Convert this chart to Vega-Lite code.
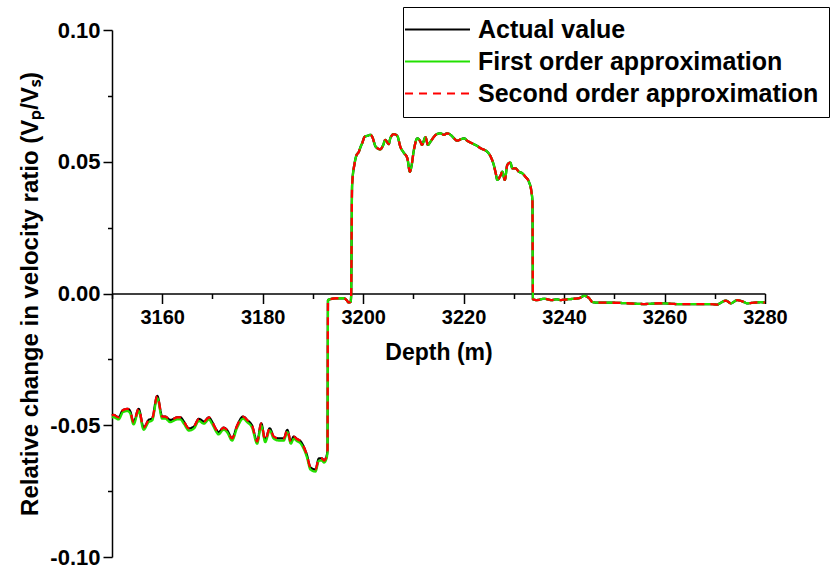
{
  "$schema": "https://vega.github.io/schema/vega-lite/v6.json",
  "autosize": {"type": "none"},
  "padding": {"left": 112, "top": 30, "right": 69, "bottom": 11},
  "width": 653,
  "height": 527,
  "background": "white",
  "config": {"view": {"stroke": null}},
  "data": {"values": [
    {"d":3150,"A":-0.0464,"F":-0.0472,"S":-0.0463},
    {"d":3150.3,"A":-0.0461,"F":-0.0469,"S":-0.0461},
    {"d":3151.3,"A":-0.0470,"F":-0.0478,"S":-0.0470},
    {"d":3152.2,"A":-0.0442,"F":-0.0450,"S":-0.0442},
    {"d":3153.1,"A":-0.0438,"F":-0.0446,"S":-0.0438},
    {"d":3153.6,"A":-0.0446,"F":-0.0454,"S":-0.0446},
    {"d":3154.3,"A":-0.0489,"F":-0.0497,"S":-0.0489},
    {"d":3155.3,"A":-0.0438,"F":-0.0446,"S":-0.0438},
    {"d":3156.3,"A":-0.0509,"F":-0.0517,"S":-0.0509},
    {"d":3157.3,"A":-0.0480,"F":-0.0488,"S":-0.0480},
    {"d":3158.0,"A":-0.0474,"F":-0.0482,"S":-0.0474},
    {"d":3159.0,"A":-0.0389,"F":-0.0397,"S":-0.0389},
    {"d":3160.0,"A":-0.0467,"F":-0.0475,"S":-0.0467},
    {"d":3160.6,"A":-0.0467,"F":-0.0475,"S":-0.0467},
    {"d":3161.6,"A":-0.0480,"F":-0.0488,"S":-0.0480},
    {"d":3163.0,"A":-0.0470,"F":-0.0478,"S":-0.0470},
    {"d":3163.6,"A":-0.0470,"F":-0.0478,"S":-0.0470},
    {"d":3164.3,"A":-0.0486,"F":-0.0494,"S":-0.0486},
    {"d":3165.3,"A":-0.0512,"F":-0.0520,"S":-0.0512},
    {"d":3166.3,"A":-0.0505,"F":-0.0513,"S":-0.0505},
    {"d":3167.3,"A":-0.0476,"F":-0.0484,"S":-0.0476},
    {"d":3168.3,"A":-0.0486,"F":-0.0494,"S":-0.0486},
    {"d":3169.3,"A":-0.0470,"F":-0.0478,"S":-0.0470},
    {"d":3169.9,"A":-0.0486,"F":-0.0494,"S":-0.0486},
    {"d":3170.8,"A":-0.0518,"F":-0.0526,"S":-0.0518},
    {"d":3171.2,"A":-0.0527,"F":-0.0535,"S":-0.0527},
    {"d":3172.2,"A":-0.0509,"F":-0.0517,"S":-0.0509},
    {"d":3172.9,"A":-0.0518,"F":-0.0526,"S":-0.0518},
    {"d":3173.9,"A":-0.0550,"F":-0.0558,"S":-0.0550},
    {"d":3174.9,"A":-0.0502,"F":-0.0510,"S":-0.0502},
    {"d":3176.1,"A":-0.0467,"F":-0.0475,"S":-0.0467},
    {"d":3176.9,"A":-0.0480,"F":-0.0488,"S":-0.0480},
    {"d":3177.9,"A":-0.0502,"F":-0.0510,"S":-0.0502},
    {"d":3178.9,"A":-0.0562,"F":-0.0570,"S":-0.0562},
    {"d":3179.7,"A":-0.0493,"F":-0.0501,"S":-0.0493},
    {"d":3180.5,"A":-0.0556,"F":-0.0564,"S":-0.0556},
    {"d":3181.4,"A":-0.0512,"F":-0.0520,"S":-0.0512},
    {"d":3182.2,"A":-0.0543,"F":-0.0551,"S":-0.0543},
    {"d":3183.2,"A":-0.0550,"F":-0.0558,"S":-0.0550},
    {"d":3184.2,"A":-0.0550,"F":-0.0558,"S":-0.0550},
    {"d":3184.9,"A":-0.0518,"F":-0.0526,"S":-0.0518},
    {"d":3185.6,"A":-0.0562,"F":-0.0570,"S":-0.0562},
    {"d":3186.2,"A":-0.0543,"F":-0.0551,"S":-0.0543},
    {"d":3186.8,"A":-0.0552,"F":-0.0560,"S":-0.0552},
    {"d":3187.5,"A":-0.0560,"F":-0.0568,"S":-0.0560},
    {"d":3188.0,"A":-0.0575,"F":-0.0583,"S":-0.0575},
    {"d":3188.8,"A":-0.0613,"F":-0.0621,"S":-0.0613},
    {"d":3189.5,"A":-0.0660,"F":-0.0668,"S":-0.0660},
    {"d":3190.5,"A":-0.0668,"F":-0.0676,"S":-0.0668},
    {"d":3191.2,"A":-0.0626,"F":-0.0634,"S":-0.0626},
    {"d":3191.8,"A":-0.0626,"F":-0.0634,"S":-0.0626},
    {"d":3192.2,"A":-0.0634,"F":-0.0642,"S":-0.0634},
    {"d":3192.7,"A":-0.0619,"F":-0.0627,"S":-0.0619},
    {"d":3192.9,"A":-0.0594,"F":-0.0600,"S":-0.0594},
    {"d":3193.0,"A":-0.0025,"F":-0.0025,"S":-0.0025},
    {"d":3193.3,"A":-0.0022,"F":-0.0022,"S":-0.0022},
    {"d":3194.8,"A":-0.0018,"F":-0.0018,"S":-0.0018},
    {"d":3196.1,"A":-0.0018,"F":-0.0018,"S":-0.0018},
    {"d":3196.7,"A":-0.0025,"F":-0.0025,"S":-0.0025},
    {"d":3197.1,"A":-0.0034,"F":-0.0034,"S":-0.0034},
    {"d":3197.5,"A":-0.0032,"F":-0.0032,"S":-0.0032},
    {"d":3197.6,"A":-0.0012,"F":-0.0012,"S":-0.0012},
    {"d":3197.8,"A":0.0412,"F":0.0412,"S":0.0412},
    {"d":3198.3,"A":0.0494,"F":0.0494,"S":0.0494},
    {"d":3198.7,"A":0.0526,"F":0.0526,"S":0.0526},
    {"d":3199.1,"A":0.0536,"F":0.0536,"S":0.0536},
    {"d":3199.5,"A":0.0557,"F":0.0557,"S":0.0557},
    {"d":3199.8,"A":0.0570,"F":0.0570,"S":0.0570},
    {"d":3200.3,"A":0.0595,"F":0.0595,"S":0.0595},
    {"d":3200.8,"A":0.0598,"F":0.0598,"S":0.0598},
    {"d":3201.5,"A":0.0602,"F":0.0602,"S":0.0602},
    {"d":3201.8,"A":0.0595,"F":0.0595,"S":0.0595},
    {"d":3202.5,"A":0.0557,"F":0.0557,"S":0.0557},
    {"d":3203.4,"A":0.0547,"F":0.0547,"S":0.0547},
    {"d":3204.0,"A":0.0564,"F":0.0564,"S":0.0564},
    {"d":3204.4,"A":0.0583,"F":0.0583,"S":0.0583},
    {"d":3205.1,"A":0.0567,"F":0.0567,"S":0.0567},
    {"d":3205.4,"A":0.0589,"F":0.0589,"S":0.0589},
    {"d":3206.1,"A":0.0605,"F":0.0605,"S":0.0605},
    {"d":3206.8,"A":0.0598,"F":0.0598,"S":0.0598},
    {"d":3207.4,"A":0.0557,"F":0.0557,"S":0.0557},
    {"d":3208.1,"A":0.0534,"F":0.0534,"S":0.0534},
    {"d":3208.8,"A":0.0513,"F":0.0513,"S":0.0513},
    {"d":3209.3,"A":0.0462,"F":0.0462,"S":0.0462},
    {"d":3209.6,"A":0.0481,"F":0.0481,"S":0.0481},
    {"d":3210.1,"A":0.0545,"F":0.0545,"S":0.0545},
    {"d":3210.8,"A":0.0589,"F":0.0589,"S":0.0589},
    {"d":3211.4,"A":0.0576,"F":0.0576,"S":0.0576},
    {"d":3211.7,"A":0.0564,"F":0.0564,"S":0.0564},
    {"d":3212.4,"A":0.0593,"F":0.0593,"S":0.0593},
    {"d":3212.9,"A":0.0564,"F":0.0564,"S":0.0564},
    {"d":3213.4,"A":0.0576,"F":0.0576,"S":0.0576},
    {"d":3214.1,"A":0.0595,"F":0.0595,"S":0.0595},
    {"d":3214.7,"A":0.0605,"F":0.0605,"S":0.0605},
    {"d":3215.4,"A":0.0608,"F":0.0608,"S":0.0608},
    {"d":3216.1,"A":0.0602,"F":0.0602,"S":0.0602},
    {"d":3216.7,"A":0.0608,"F":0.0608,"S":0.0608},
    {"d":3217.4,"A":0.0602,"F":0.0602,"S":0.0602},
    {"d":3218.1,"A":0.0589,"F":0.0589,"S":0.0589},
    {"d":3218.7,"A":0.0580,"F":0.0580,"S":0.0580},
    {"d":3219.4,"A":0.0585,"F":0.0585,"S":0.0585},
    {"d":3220.1,"A":0.0589,"F":0.0589,"S":0.0589},
    {"d":3220.7,"A":0.0580,"F":0.0580,"S":0.0580},
    {"d":3222.0,"A":0.0567,"F":0.0567,"S":0.0567},
    {"d":3222.7,"A":0.0560,"F":0.0560,"S":0.0560},
    {"d":3223.4,"A":0.0551,"F":0.0551,"S":0.0551},
    {"d":3224.7,"A":0.0538,"F":0.0538,"S":0.0538},
    {"d":3225.4,"A":0.0519,"F":0.0519,"S":0.0519},
    {"d":3226.0,"A":0.0488,"F":0.0488,"S":0.0488},
    {"d":3226.4,"A":0.0456,"F":0.0456,"S":0.0456},
    {"d":3226.7,"A":0.0431,"F":0.0431,"S":0.0431},
    {"d":3227.4,"A":0.0450,"F":0.0450,"S":0.0450},
    {"d":3227.7,"A":0.0462,"F":0.0462,"S":0.0462},
    {"d":3228.2,"A":0.0431,"F":0.0431,"S":0.0431},
    {"d":3228.7,"A":0.0488,"F":0.0488,"S":0.0488},
    {"d":3229.3,"A":0.0497,"F":0.0497,"S":0.0497},
    {"d":3229.7,"A":0.0475,"F":0.0475,"S":0.0475},
    {"d":3230.3,"A":0.0475,"F":0.0475,"S":0.0475},
    {"d":3231.0,"A":0.0462,"F":0.0462,"S":0.0462},
    {"d":3231.7,"A":0.0456,"F":0.0456,"S":0.0456},
    {"d":3232.3,"A":0.0443,"F":0.0443,"S":0.0443},
    {"d":3233.0,"A":0.0424,"F":0.0424,"S":0.0424},
    {"d":3233.5,"A":0.0386,"F":0.0386,"S":0.0386},
    {"d":3233.7,"A":0.0350,"F":0.0350,"S":0.0350},
    {"d":3233.8,"A":-0.0022,"F":-0.0022,"S":-0.0022},
    {"d":3234.5,"A":-0.0025,"F":-0.0025,"S":-0.0025},
    {"d":3236.0,"A":-0.0020,"F":-0.0020,"S":-0.0020},
    {"d":3237.5,"A":-0.0025,"F":-0.0025,"S":-0.0025},
    {"d":3238.5,"A":-0.0022,"F":-0.0022,"S":-0.0022},
    {"d":3239.3,"A":-0.0025,"F":-0.0025,"S":-0.0025},
    {"d":3240.6,"A":-0.0022,"F":-0.0022,"S":-0.0022},
    {"d":3242.0,"A":-0.0020,"F":-0.0020,"S":-0.0020},
    {"d":3243.0,"A":-0.0018,"F":-0.0018,"S":-0.0018},
    {"d":3244.0,"A":-0.0009,"F":-0.0009,"S":-0.0009},
    {"d":3245.0,"A":-0.0018,"F":-0.0018,"S":-0.0018},
    {"d":3245.6,"A":-0.0032,"F":-0.0032,"S":-0.0032},
    {"d":3246.6,"A":-0.0035,"F":-0.0035,"S":-0.0035},
    {"d":3249.3,"A":-0.0035,"F":-0.0035,"S":-0.0035},
    {"d":3252.6,"A":-0.0037,"F":-0.0037,"S":-0.0037},
    {"d":3255.9,"A":-0.0040,"F":-0.0040,"S":-0.0040},
    {"d":3259.2,"A":-0.0037,"F":-0.0037,"S":-0.0037},
    {"d":3262.6,"A":-0.0040,"F":-0.0040,"S":-0.0040},
    {"d":3265.9,"A":-0.0040,"F":-0.0040,"S":-0.0040},
    {"d":3269.2,"A":-0.0040,"F":-0.0040,"S":-0.0040},
    {"d":3270.5,"A":-0.0042,"F":-0.0042,"S":-0.0042},
    {"d":3271.2,"A":-0.0035,"F":-0.0035,"S":-0.0035},
    {"d":3272.2,"A":-0.0027,"F":-0.0027,"S":-0.0027},
    {"d":3273.2,"A":-0.0037,"F":-0.0037,"S":-0.0037},
    {"d":3274.5,"A":-0.0025,"F":-0.0025,"S":-0.0025},
    {"d":3275.5,"A":-0.0030,"F":-0.0030,"S":-0.0030},
    {"d":3276.5,"A":-0.0037,"F":-0.0037,"S":-0.0037},
    {"d":3277.8,"A":-0.0035,"F":-0.0035,"S":-0.0035},
    {"d":3279.2,"A":-0.0033,"F":-0.0033,"S":-0.0033},
    {"d":3280,"A":-0.0035,"F":-0.0035,"S":-0.0035}
  ]},
  "transform": [{"fold": ["A", "F", "S"], "as": ["series", "value"]}],
  "mark": {"type": "line", "strokeWidth": 2.3, "interpolate": "monotone"},
  "encoding": {
    "x": {
      "field": "d", "type": "quantitative",
      "scale": {"domain": [3150, 3280], "nice": false, "zero": false},
      "axis": {
        "orient": "bottom", "offset": -263.5,
        "values": [3150,3160,3170,3180,3190,3200,3210,3220,3230,3240,3250,3260,3270,3280],
        "format": "d",
        "labelExpr": "datum.value % 20 == 0 ? datum.label : ''",
        "tickSize": {"condition": {"test": "datum.value % 20 == 0", "value": 10}, "value": 5},
        "grid": false, "domainColor": "black", "domainWidth": 1.5,
        "tickColor": "black", "tickWidth": 1.5,
        "labelFont": "Liberation Sans", "labelFontWeight": "bold", "labelFontSize": 20,
        "labelColor": "black", "labelPadding": 4, "labelFlush": false,
        "title": "Depth (m)", "titleFont": "Liberation Sans", "titleFontWeight": "bold",
        "titleFontSize": 23, "titleColor": "black", "titlePadding": 14
      }
    },
    "y": {
      "field": "value", "type": "quantitative",
      "scale": {"domain": [-0.1, 0.1], "nice": false, "zero": false},
      "axis": {
        "values": [-0.1,-0.075,-0.05,-0.025,0,0.025,0.05,0.075,0.1],
        "format": ".2f",
        "labelExpr": "abs(round(datum.value*40)) % 2 == 0 ? replace(datum.label, '\u2212', '-') : ''",
        "tickSize": {"condition": {"test": "abs(round(datum.value*40)) % 2 == 0", "value": 9}, "value": 4.5},
        "grid": false, "domainColor": "black", "domainWidth": 1.5,
        "tickColor": "black", "tickWidth": 1.5,
        "labelFont": "Liberation Sans", "labelFontWeight": "bold", "labelFontSize": 22,
        "labelColor": "black", "labelPadding": 3, "labelFlush": false,
        "title": "Relative change in velocity ratio (Vₚ/Vₛ)",
        "titleFont": "Liberation Sans", "titleFontWeight": "bold",
        "titleFontSize": 24, "titleColor": "black", "titlePadding": 7
      }
    },
    "color": {
      "field": "series", "type": "nominal",
      "scale": {"domain": ["A", "F", "S"], "range": ["#000000", "#22e000", "#ff0000"]},
      "legend": {
        "title": null, "orient": "none", "legendX": 291, "legendY": -23,
        "strokeColor": "black", "fillColor": "white", "padding": 10,
        "symbolType": "M-3,0H3", "symbolSize": 469, "symbolStrokeWidth": 2,
        "symbolOffset": 12,
        "labelFont": "Liberation Sans", "labelFontWeight": "bold", "labelFontSize": 25,
        "labelColor": "black", "labelOffset": 28, "rowPadding": 6, "labelLimit": 600,
        "labelExpr": "datum.label == 'A' ? 'Actual value' : datum.label == 'F' ? 'First order approximation' : 'Second order approximation'"
      }
    },
    "strokeDash": {
      "field": "series", "type": "nominal",
      "scale": {"domain": ["A", "F", "S"], "range": [[1, 0], [1, 0], [8, 6]]},
      "legend": null
    }
  }
}
